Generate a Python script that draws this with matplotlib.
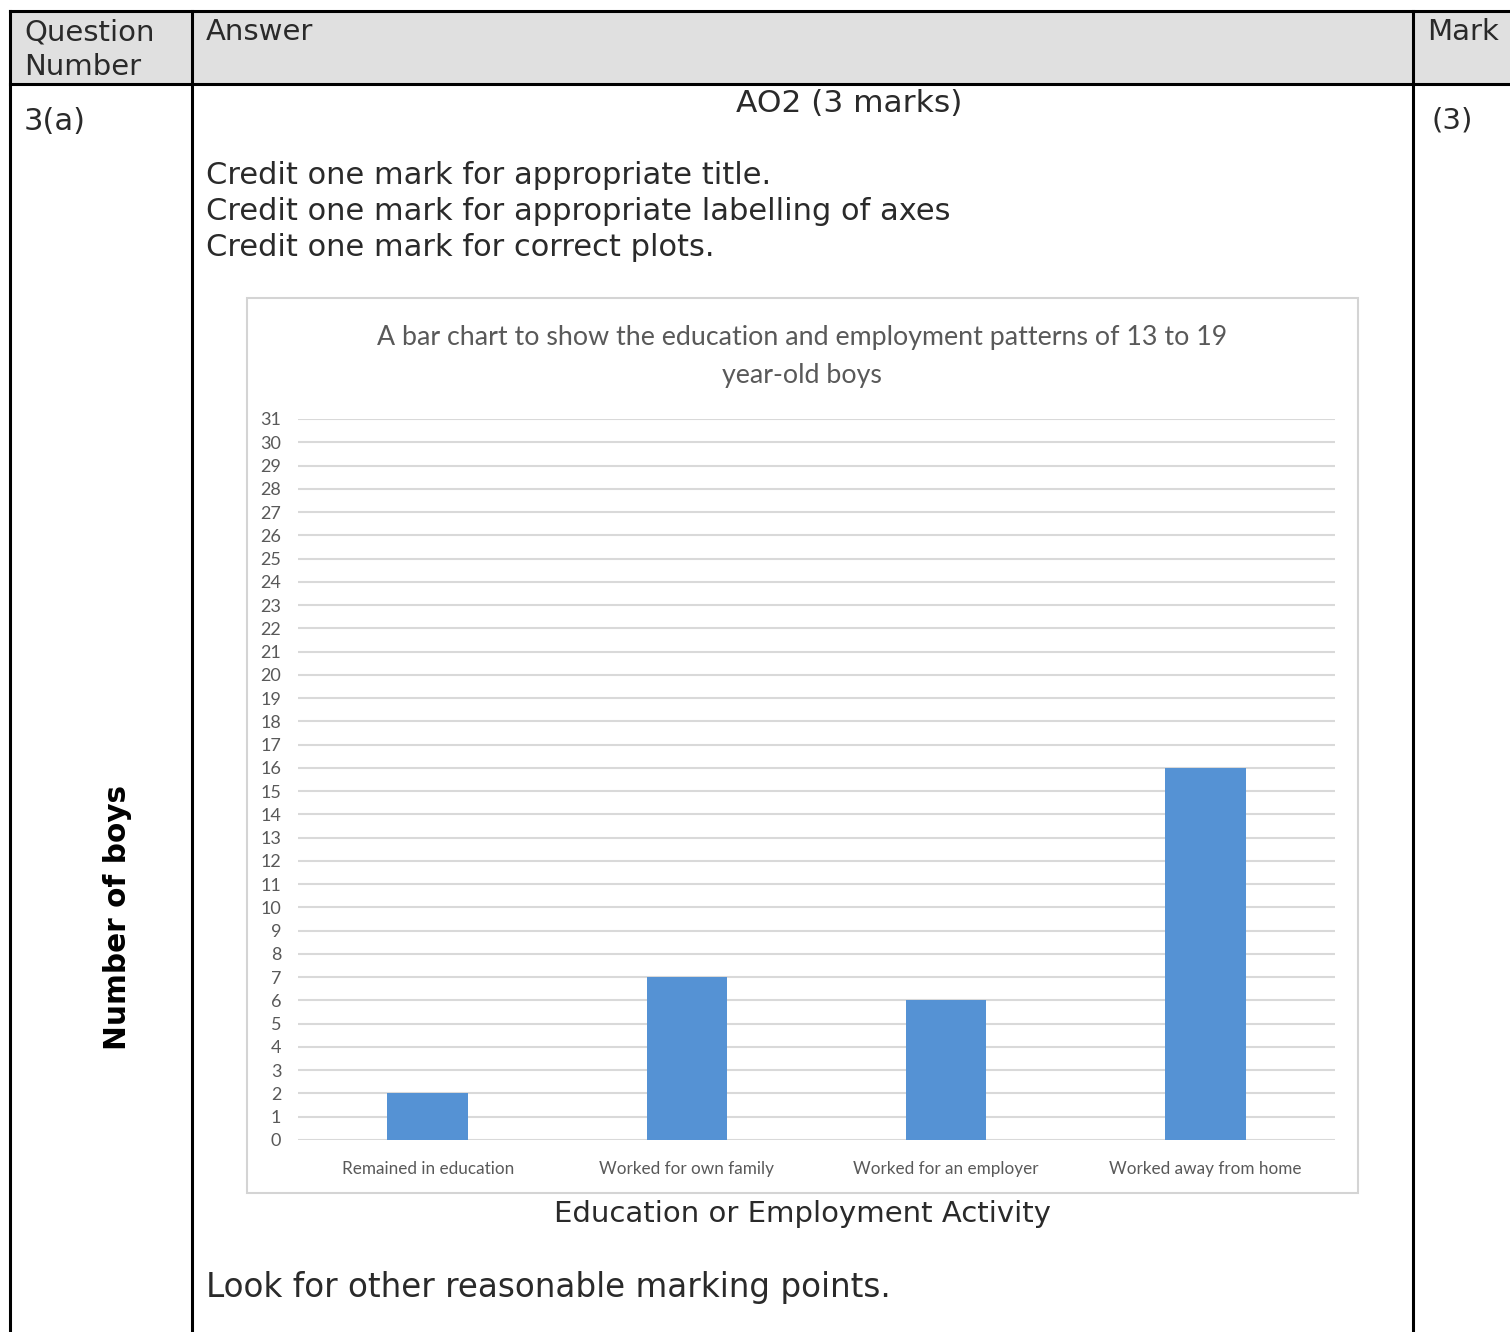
import numpy as np
import matplotlib
matplotlib.use('Agg')
import matplotlib.pyplot as plt
from matplotlib.lines import Line2D
from matplotlib.patches import Rectangle

# data
categories = ['Remained in education', 'Worked for own family',
              'Worked for an employer', 'Worked away from home']
boys = [2, 7, 6, 16]
y_ticks = list(range(0, 32))

W, H = 1510, 1332
fig = plt.figure(figsize=(W / 100, H / 100), dpi=100)
fig.patch.set_facecolor('white')


def fx(x):
    return x / W


def fy(y):
    return 1 - y / H


def hline(y, x0, x1, lw=2.2, c='black'):
    fig.add_artist(Line2D([fx(x0), fx(x1)], [fy(y), fy(y)], lw=lw, color=c))


def vline(x, y0, y1, lw=2.2, c='black'):
    fig.add_artist(Line2D([fx(x), fx(x)], [fy(y0), fy(y1)], lw=lw, color=c))


def txt(x, y, s, **kw):
    kw.setdefault('fontsize', 22)
    kw.setdefault('color', '#2a2a2a')
    kw.setdefault('va', 'center')
    kw.setdefault('family', 'DejaVu Sans')
    fig.text(fx(x), fy(y), s, **kw)


# table header shading and rules
fig.add_artist(Rectangle((fx(10), fy(84)), fx(1510) - fx(10), fy(11) - fy(84),
                         facecolor='#e0e0e0', edgecolor='none', zorder=0))
hline(11, 10, 1510)
hline(84, 10, 1510)
vline(10, 11, 1332)
vline(192, 11, 1332)
vline(1413, 11, 1332)

# table text
txt(24, 32, 'Question', fontsize=21)
txt(24, 67, 'Number', fontsize=21)
txt(206, 32, 'Answer', fontsize=21)
txt(1427, 32, 'Mark', fontsize=21)
txt(24, 121, '3(a)', fontsize=22)
txt(1431, 121, '(3)', fontsize=21)
txt(849, 104, 'AO2 (3 marks)', ha='center', fontsize=22.5)
txt(206, 176, 'Credit one mark for appropriate title.')
txt(206, 212, 'Credit one mark for appropriate labelling of axes')
txt(206, 247, 'Credit one mark for correct plots.')
txt(802, 1214, 'Education or Employment Activity', ha='center', fontsize=21)
txt(206, 1287, 'Look for other reasonable marking points.', fontsize=23.5)
txt(118, 918, 'Number of boys', rotation=90, ha='center', fontsize=21.3,
    fontweight='bold', color='black')

# chart frame
fig.add_artist(Rectangle((fx(247), fy(1193)), fx(1358) - fx(247), fy(298) - fy(1193),
                         facecolor='white', edgecolor='#d4d4d4', lw=1.5, zorder=1))

txt(802, 337, 'A bar chart to show the education and employment patterns of 13 to 19',
    ha='center', fontsize=19.3, family='Lato', color='#595959')
txt(802, 375, 'year-old boys', ha='center', fontsize=19.3, family='Lato', color='#595959')

# plot area
ax = fig.add_axes([fx(298), fy(1140), fx(1335) - fx(298), fy(419) - fy(1140)])
ax.set_zorder(2)
ax.patch.set_alpha(0)
x = np.arange(len(categories))
ax.bar(x, boys, width=0.31, color='#5592d4', zorder=3)
ax.set_xlim(-0.5, len(categories) - 0.5)
ax.set_ylim(0, 31)
ax.set_yticks(y_ticks)
ax.set_xticks(x)
ax.set_xticklabels(categories)
ax.yaxis.grid(True, color='#d9d9d9', lw=1.5)
ax.set_axisbelow(True)
for s in ax.spines.values():
    s.set_visible(False)
ax.tick_params(axis='both', length=0, colors='#595959', labelsize=12.5)
ax.tick_params(axis='y', pad=12, labelsize=13)
ax.tick_params(axis='x', pad=15, labelsize=12.3)
for lab in ax.get_xticklabels() + ax.get_yticklabels():
    lab.set_family('Lato')

fig.savefig('out.png', dpi=100)
